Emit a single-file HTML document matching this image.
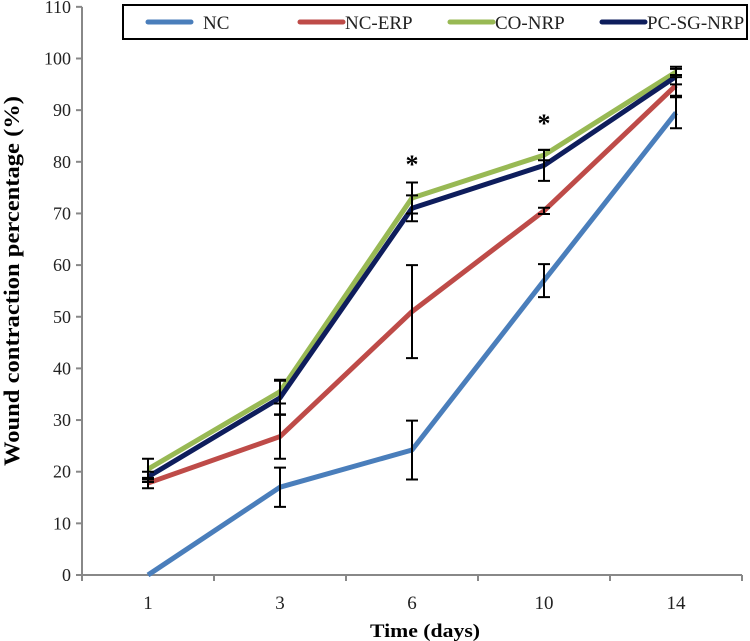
<!DOCTYPE html>
<html><head><meta charset="utf-8"><style>
body{margin:0;background:#fff}
svg{display:block;font-family:"Liberation Serif",serif}
</style></head><body>
<svg id="chart" width="750" height="641" viewBox="0 0 750 641" xmlns="http://www.w3.org/2000/svg">
<g id="axes"></g><g id="series"></g><g id="errs"></g><g id="legend"></g>
</svg>
<script>
const categories = ["1","3","6","10","14"];
const yTicks = [0,10,20,30,40,50,60,70,80,90,100,110];
const seriesNames = ["NC","NC-ERP","CO-NRP","PC-SG-NRP"];
const seriesColors = ["#4a7ebb","#be4b48","#98b954","#0e1d5c"];
const ncValues = [0,17,24.2,57,89.5];
const ncErr = [0,3.8,5.7,3.2,3];
const ercValues = [17.8,26.8,51,70.5,94.8];
const ercErr = [1,4.3,9,0.6,2];
const coValues = [20.5,35.5,73,81.3,97.4];
const coErr = [2,2.3,3,1,1];
const pcValues = [19,34.3,71,79.3,96.5];
const pcErr = [1,3.3,2.5,3,1.5];
const stars = [{cat:2,val:80.5},{cat:3,val:88.5}];

const NS="http://www.w3.org/2000/svg";
const X0=82,X1=742,Y0=575,PPU=5.165;
const bw=(X1-X0)/categories.length;
const xs=i=>X0+bw*(i+0.5);
const ys=v=>Y0-v*PPU;
function mk(tag,attrs,parent,text){const e=document.createElementNS(NS,tag);for(const k in attrs)e.setAttribute(k,attrs[k]);if(text!==undefined)e.textContent=text;parent.appendChild(e);return e;}
const axes=document.getElementById('axes');
let e=mk('line',{x1:X0,y1:ys(110),x2:X0,y2:Y0,stroke:'#888','stroke-width':2},axes);


e=mk('line',{x1:X0,y1:Y0,x2:X1,y2:Y0,stroke:'#888','stroke-width':2},axes);


yTicks.forEach(t=>{
 mk('line',{x1:X0-6,y1:ys(t),x2:X0,y2:ys(t),stroke:'#888','stroke-width':2},axes);
 const l=mk('text',{x:X0-11,y:ys(t)+6,'text-anchor':'end','font-size':18,fill:'#222'},axes,String(t));
 
 
});
for(let i=0;i<=categories.length;i++){mk('line',{x1:X0+bw*i,y1:Y0,x2:X0+bw*i,y2:Y0+6,stroke:'#888','stroke-width':2},axes);}
categories.forEach((c,i)=>{
 const l=mk('text',{x:xs(i),y:609,'text-anchor':'middle','font-size':19,fill:'#222'},axes,c);
 
 
});
e=mk('text',{x:425,y:637,'text-anchor':'middle','font-size':19,'font-weight':'bold',textLength:110,lengthAdjust:'spacingAndGlyphs'},axes,'Time (days)');


e=mk('text',{x:0,y:0,'text-anchor':'middle','font-size':22,'font-weight':'bold',textLength:370,lengthAdjust:'spacingAndGlyphs',transform:'translate(19,281) rotate(-90)'},axes,'Wound contraction percentage (%)');



const allVals=[ncValues,ercValues,coValues,pcValues];
const allErr=[ncErr,ercErr,coErr,pcErr];
const sg=document.getElementById('series'),eg=document.getElementById('errs');
allVals.forEach((vals,s)=>{
 const p=mk('polyline',{points:vals.map((v,i)=>xs(i)+','+ys(v)).join(' '),fill:'none',stroke:seriesColors[s],'stroke-width':5,'stroke-linejoin':'round'},sg);
 
 
 vals.forEach((v,i)=>{
  const er=allErr[s][i]; if(!er)return;
  const x=xs(i),a=ys(v+er),b=ys(v-er);
  const g=mk('path',{d:`M${x},${a}V${b}M${x-6},${a}H${x+6}M${x-6},${b}H${x+6}`,stroke:'#000','stroke-width':2,fill:'none'},eg);
  
  
 });
});
stars.forEach(st=>{
 const t=mk('text',{x:xs(st.cat),y:ys(st.val)+14,'text-anchor':'middle','font-size':26,'font-weight':'bold'},eg,'*');
 
 
});
const lg=document.getElementById('legend');
e=mk('rect',{x:123,y:5,width:624,height:34,fill:'#fff',stroke:'#000','stroke-width':2},lg);


const lx=[148,300,450,602];
seriesNames.forEach((n,s)=>{
 mk('line',{x1:lx[s],y1:22,x2:lx[s]+43,y2:22,stroke:seriesColors[s],'stroke-width':5,'stroke-linecap':'round'},lg);
 const t=mk('text',{x:lx[s]+(s===0?55:45),y:29,'font-size':19,fill:'#222'},lg,n);
 
 
});
</script>
</body></html>
